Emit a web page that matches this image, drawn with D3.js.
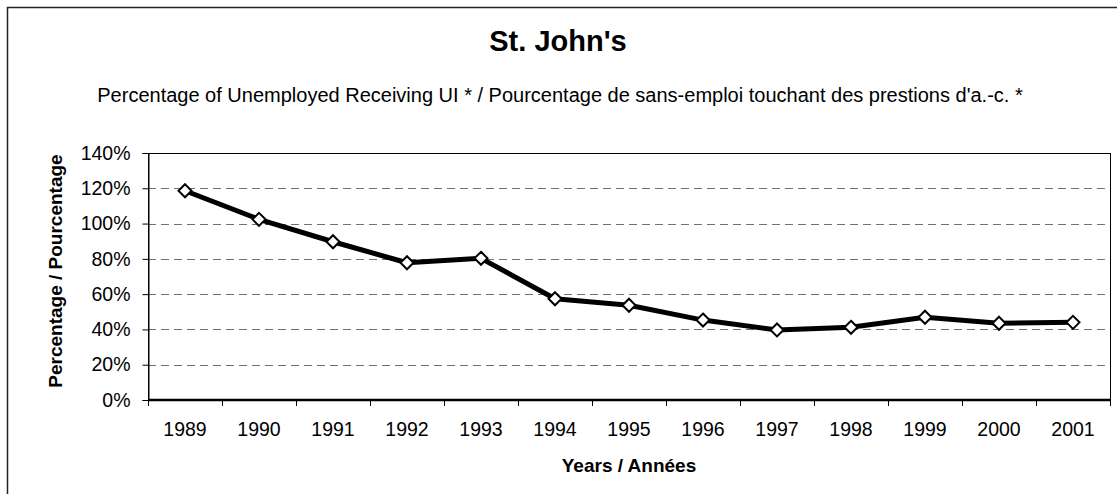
<!DOCTYPE html>
<html>
<head>
<meta charset="utf-8">
<script src="https://cdn.jsdelivr.net/npm/d3@7"></script>
<style>
  html, body { margin: 0; padding: 0; background: #fff; }
  text { font-family: "Liberation Sans", Arial, sans-serif; fill: #000; }
</style>
</head>
<body>
<svg id="chart" width="1117" height="494"></svg>
<script>
const years = ["1989","1990","1991","1992","1993","1994","1995","1996","1997","1998","1999","2000","2001"];
const pctValues = [118.6, 102.4, 89.7, 77.8, 80.3, 57.4, 53.7, 45.3, 39.7, 41.2, 46.9, 43.5, 44.0];
const yTicks = [0, 20, 40, 60, 80, 100, 120, 140];
const titleText = "St. John's";
const subtitleText = "Percentage of Unemployed Receiving UI * / Pourcentage de sans-emploi touchant des prestions d'a.-c. *";
const yAxisTitle = "Percentage / Pourcentage";
const xAxisTitle = "Years / Années";

const svg = d3.select("#chart");
const W = 1117, H = 494;
const plot = { left: 148, right: 1110, top: 153, bottom: 400 };

// outer chart border
svg.append("rect")
  .attr("x", 7.5).attr("y", 7.5)
  .attr("width", W + 20).attr("height", H + 20)
  .attr("fill", "#fff").attr("stroke", "#222").attr("stroke-width", 1.5);

const x = d3.scaleBand().domain(years).range([plot.left, plot.right]).padding(0);
const y = d3.scaleLinear().domain([0, 140]).range([plot.bottom, plot.top]);

// gridlines
svg.append("g").selectAll("line")
  .data(yTicks.filter(t => t > 0 && t < 140))
  .join("line")
  .attr("x1", plot.left).attr("x2", plot.right)
  .attr("y1", d => Math.round(y(d)) + 0.5).attr("y2", d => Math.round(y(d)) + 0.5)
  .attr("stroke", "#707070").attr("stroke-width", 1)
  .attr("stroke-dasharray", "8,5");

// plot border (top, right)
svg.append("rect")
  .attr("x", plot.left + 0.5).attr("y", plot.top + 0.5)
  .attr("width", plot.right - plot.left).attr("height", plot.bottom - plot.top)
  .attr("fill", "none").attr("stroke", "#000").attr("stroke-width", 1);

// y axis
const yAxis = d3.axisLeft(y).tickValues(yTicks).tickFormat(d => d + "%").tickSize(6).tickPadding(12);
const gy = svg.append("g").attr("transform", `translate(${plot.left + 0.5},0)`).call(yAxis);
gy.select(".domain").attr("stroke", "#000");
gy.selectAll(".tick line").attr("stroke", "#000");
gy.selectAll(".tick text").attr("font-size", 19.5).attr("font-family", "Liberation Sans, Arial, sans-serif");

// x axis
const xTickPos = years.map((d, i) => plot.left + i * x.bandwidth()).concat([plot.right]);
const gx = svg.append("g").attr("transform", `translate(0,${plot.bottom})`);
gx.append("line").attr("x1", plot.left).attr("x2", plot.right + 1)
  .attr("y1", 0).attr("y2", 0).attr("stroke", "#000").attr("stroke-width", 2.5);
gx.selectAll("line.tk").data(xTickPos).join("line").attr("class", "tk")
  .attr("x1", d => Math.round(d) + 0.5).attr("x2", d => Math.round(d) + 0.5)
  .attr("y1", 0).attr("y2", 6).attr("stroke", "#000");
gx.selectAll("text").data(years).join("text")
  .attr("x", d => x(d) + x.bandwidth() / 2).attr("y", 36)
  .attr("text-anchor", "middle").attr("font-size", 19.5)
  .text(d => d);

// line
const pts = years.map((d, i) => [x(d) + x.bandwidth() / 2, y(pctValues[i])]);
svg.append("path")
  .attr("d", d3.line()(pts))
  .attr("fill", "none").attr("stroke", "#000").attr("stroke-width", 5)
  .attr("stroke-linejoin", "round");

// markers
svg.append("g").selectAll("path")
  .data(pts).join("path")
  .attr("transform", d => `translate(${d[0]},${d[1]})`)
  .attr("d", "M0,-6.5L6.5,0L0,6.5L-6.5,0Z")
  .attr("fill", "#fff").attr("stroke", "#000").attr("stroke-width", 2);

// titles
svg.append("text").attr("x", 558).attr("y", 51).attr("text-anchor", "middle")
  .attr("font-size", 29).attr("font-weight", "bold").text(titleText);
svg.append("text").attr("x", 560).attr("y", 102).attr("text-anchor", "middle")
  .attr("font-size", 20).text(subtitleText);
svg.append("text")
  .attr("transform", `translate(62,271) rotate(-90)`)
  .attr("text-anchor", "middle").attr("font-size", 19).attr("font-weight", "bold")
  .text(yAxisTitle);
svg.append("text").attr("x", 629).attr("y", 472).attr("text-anchor", "middle")
  .attr("font-size", 19).attr("font-weight", "bold").text(xAxisTitle);
</script>
</body>
</html>
